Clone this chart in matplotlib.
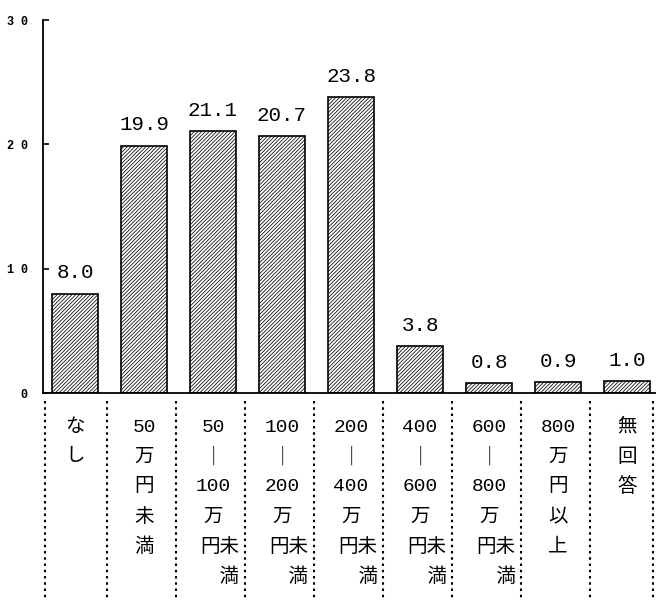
import numpy as np
import matplotlib.pyplot as plt

plt.rcParams['hatch.linewidth'] = 0.55

values = [8.0, 19.9, 21.1, 20.7, 23.8, 3.8, 0.8, 0.9, 1.0]
yticks = [0, 10, 20, 30]
cat_rows = [
    ["な", "し"],
    ["50", "万", "円", "未", "満"],
    ["50", "｜", "100", "万", "円未", "　満"],
    ["100", "｜", "200", "万", "円未", "　満"],
    ["200", "｜", "400", "万", "円未", "　満"],
    ["400", "｜", "600", "万", "円未", "　満"],
    ["600", "｜", "800", "万", "円未", "　満"],
    ["800", "万", "円", "以", "上"],
    ["無", "回", "答"],
]

fam = ['Liberation Mono', 'Noto Sans CJK JP']

fig = plt.figure(figsize=(6.56, 6.01), dpi=100)
ax = fig.add_axes([0.0655, 0.346, 1 - 0.0655, 0.6207])

x = np.arange(len(values))
ax.bar(x, values, width=0.67, color='white', edgecolor='black',
       hatch='/////////', linewidth=1.2)

xl = (-0.464, 8.42)
ax.set_xlim(*xl)
ax.set_ylim(0, 30)
for s in ['top', 'right']:
    ax.spines[s].set_visible(False)
ax.spines['left'].set_linewidth(1.3)
ax.spines['bottom'].set_linewidth(1.3)

ax.set_xticks([])
ax.set_yticks(yticks)
ax.set_yticklabels([' '.join(str(t)) for t in yticks], family='Liberation Mono',
                   fontweight='bold')
ax.tick_params(axis='y', direction='in', length=4, width=1.2, pad=11, labelsize=8.5)

# value labels
for xi, v in zip(x, values):
    ax.annotate(f"{v:.1f}", (xi, v), xytext=(0, 8), textcoords='offset points',
                ha='center', va='bottom', fontsize=15, family='Liberation Mono')

# dotted separators below the axis
tr = ax.get_xaxis_transform()
seps = np.concatenate([[xl[0] + 0.03], x[1:] - 0.53, [xl[1] - 0.04]])
for s in seps:
    ax.plot([s, s], [-0.02, -0.56], transform=tr, color='black', lw=1.5,
            ls=(0, (1.2, 1.8)), clip_on=False)

# category labels, written vertically
for xi, rows in zip(x, cat_rows):
    for r, s in enumerate(rows):
        y = -0.091 - r * 0.0804
        if len(s) == 2 and not s.isdigit():
            ax.annotate(s, (xi, y), xycoords=tr, xytext=(-9, 0),
                        textcoords='offset points', ha='left', va='center',
                        fontsize=14, family=fam)
        else:
            ax.annotate(s, (xi, y), xycoords=tr, ha='center', va='center',
                        fontsize=14, family=fam)

fig.savefig('out.png', dpi=100)
